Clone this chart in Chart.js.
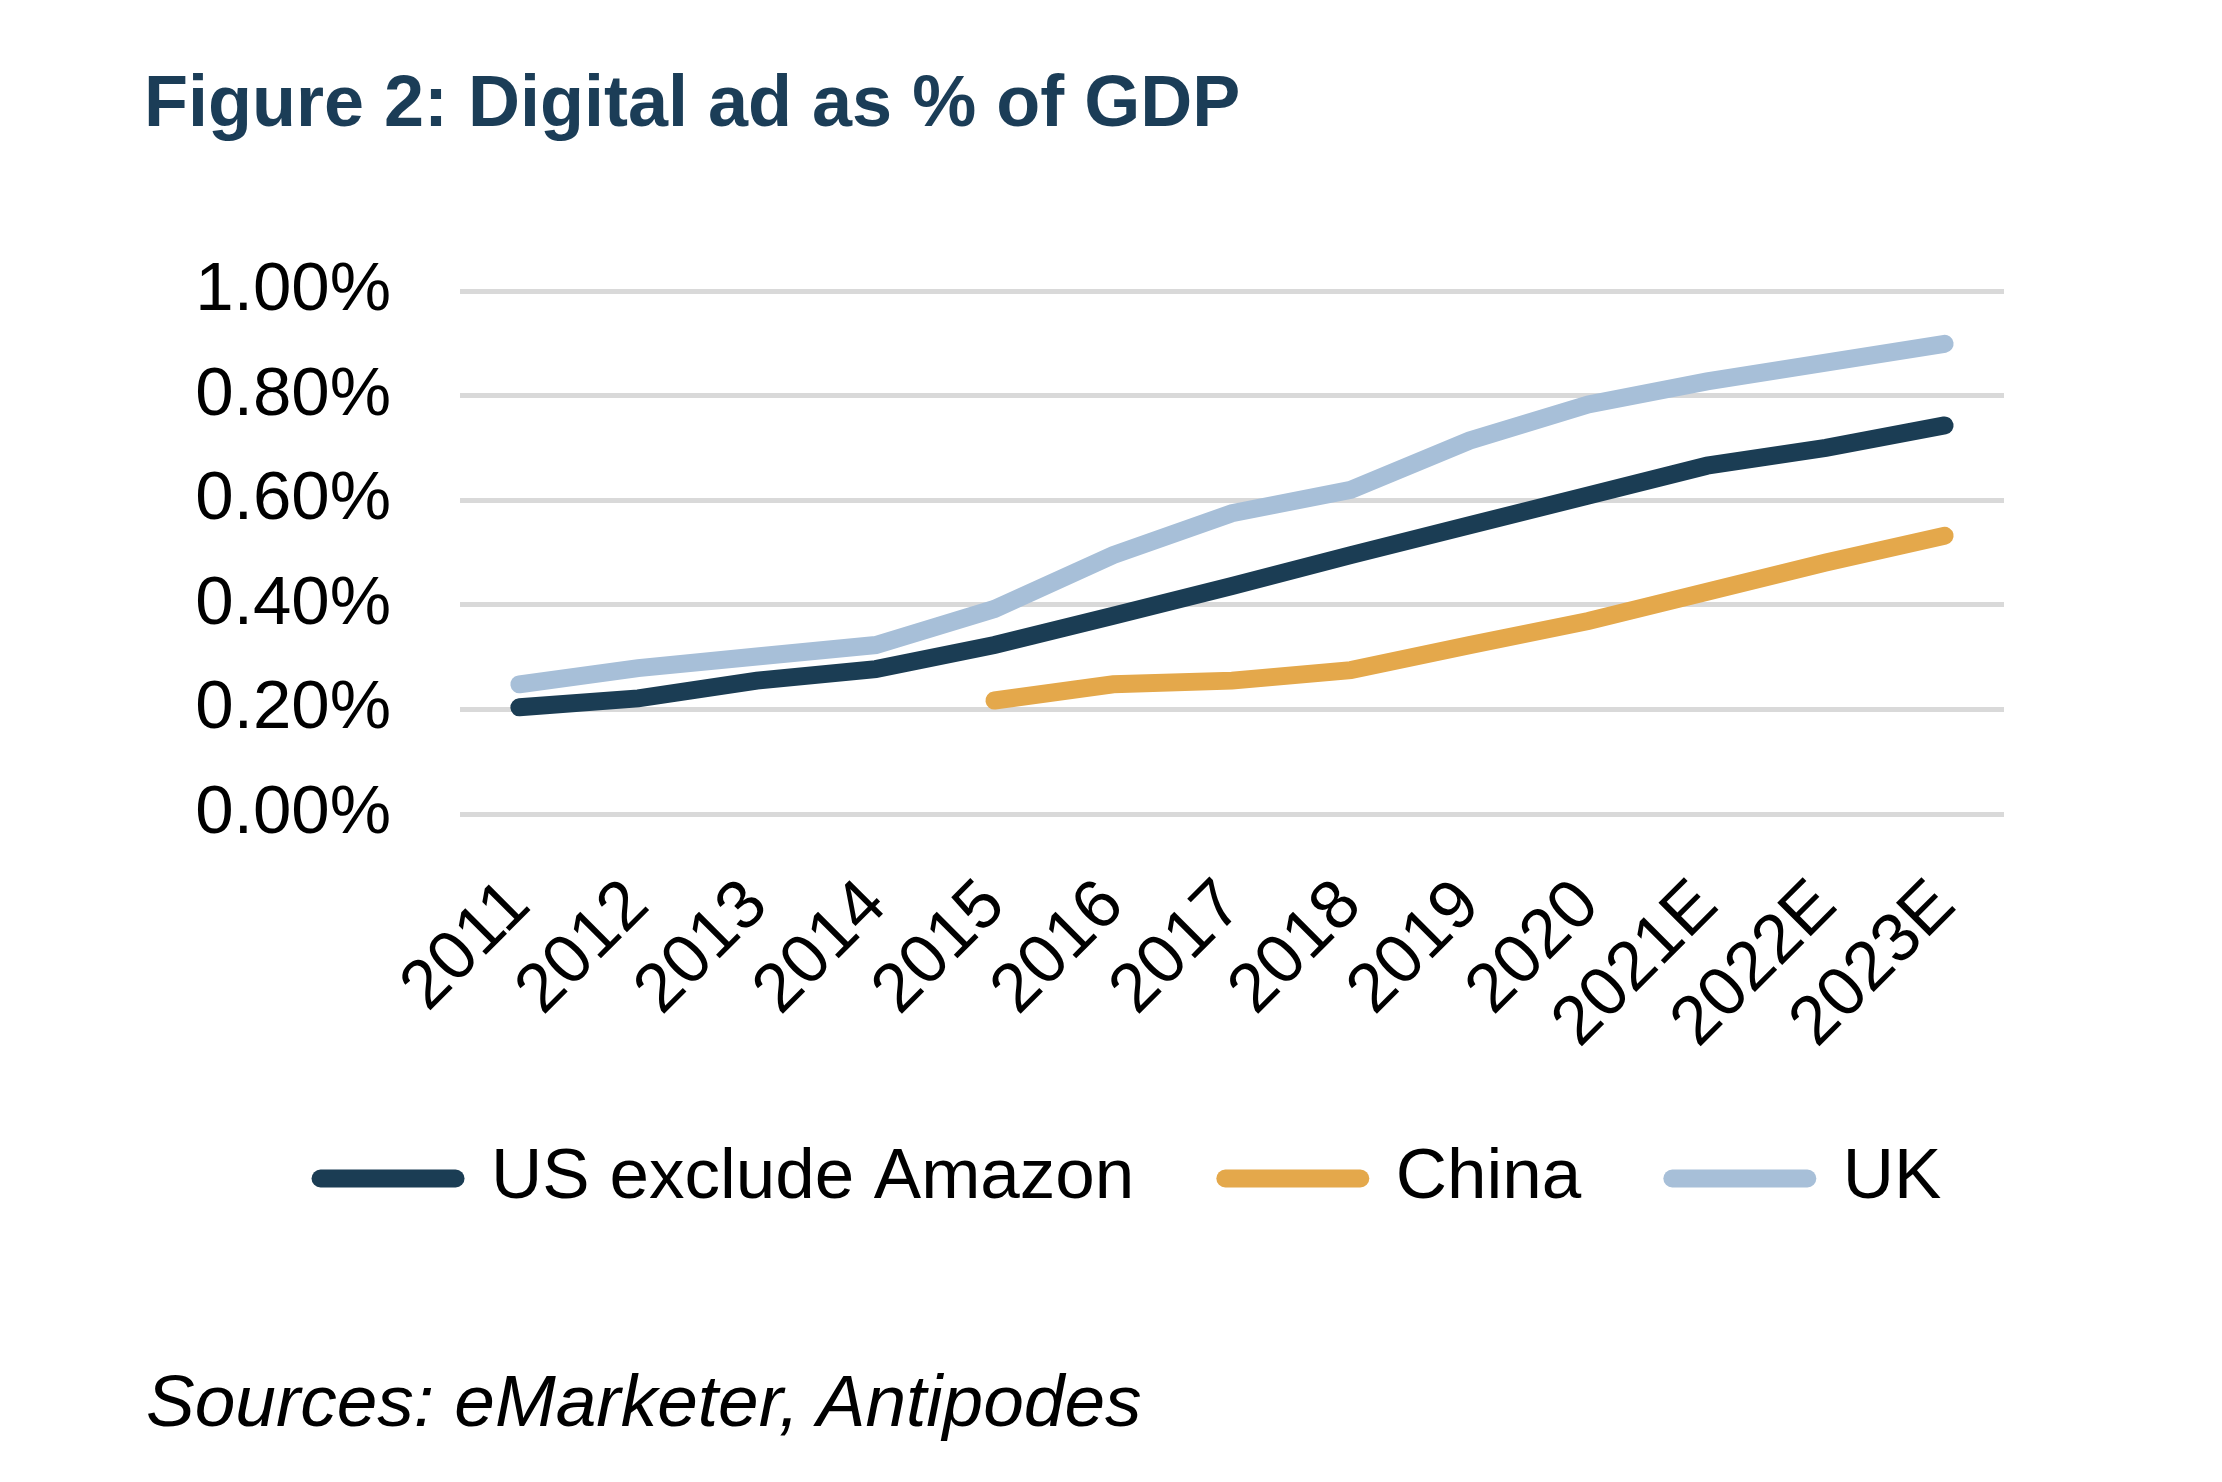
<!DOCTYPE html>
<html>
<head>
<meta charset="utf-8">
<script src="https://cdn.jsdelivr.net/npm/chart.js@4/dist/chart.umd.min.js"></script>
<style>
  body { margin: 0; background: #fff; width: 2222px; height: 1482px; position: relative; overflow: hidden; }
  #title { position: absolute; left: 144px; top: 65px; font: bold 72px "Liberation Sans", Arial, sans-serif; line-height: 1; color: #1B3D57; white-space: nowrap; }
  #source { position: absolute; left: 146px; top: 1364px; font: italic 73px "Liberation Sans", Arial, sans-serif; line-height: 1; color: #000; white-space: nowrap; }
</style>
</head>
<body>
<div id="title">Figure 2: Digital ad as % of GDP</div>
<canvas id="GraficoPib" width="2222" height="1224"></canvas>
<div id="source">Sources: eMarketer, Antipodes</div>
<script>
'use strict'

const years = ['2011', '2012', '2013', '2014', '2015', '2016', '2017', '2018', '2019', '2020', '2021E', '2022E', '2023E'];
const usExAmazon = [0.204, 0.221, 0.255, 0.277, 0.323, 0.379, 0.436, 0.495, 0.552, 0.609, 0.666, 0.700, 0.743];
const china = [null, null, null, null, 0.217, 0.248, 0.255, 0.275, 0.323, 0.369, 0.425, 0.481, 0.532];
const uk = [0.248, 0.279, 0.301, 0.323, 0.392, 0.495, 0.575, 0.620, 0.714, 0.783, 0.827, 0.863, 0.899];
const yTicks = [0, 0.2, 0.4, 0.6, 0.8, 1.0];

const canvasPib = document.querySelector('#GraficoPib');
canvasPib.style.position = 'absolute';
canvasPib.style.left = '0px';
canvasPib.style.top = '0px';

const fuente = { family: '"Liberation Sans", Arial, sans-serif' };

function serie(label, values, color) {
  return {
    label: label,
    data: values,
    borderColor: color,
    backgroundColor: color,
    borderWidth: 18,
    borderCapStyle: 'round',
    pointRadius: 0,
    pointHoverRadius: 0,
    tension: 0,
    fill: false
  };
}

const dataPib = {
  labels: years,
  datasets: [
    serie('US exclude Amazon', usExAmazon, '#1B3D54'),
    serie('China', china, '#E4A84B'),
    serie('UK', uk, '#A7BFD8')
  ]
};

// config
const configPib = {
  type: 'line',
  data: dataPib,
  options: {
    responsive: false,
    animation: false,
    devicePixelRatio: 1,
    layout: { padding: { left: 40, right: 0, top: 291, bottom: 0 } },
    plugins: {
      title: { display: false },
      tooltip: { enabled: false },
      legend: {
        position: 'bottom',
        labels: {
          usePointStyle: true,
          pointStyle: 'line',
          pointStyleWidth: 135,
          padding: 91,
          color: '#000',
          font: { ...fuente, size: 71 },
          // round ends on the legend lines, like the series
          generateLabels: chart => Chart.defaults.plugins.legend.labels.generateLabels(chart)
            .map(item => ({ ...item, lineCap: 'round' }))
        }
      }
    },
    scales: {
      x: {
        offset: true,
        grid: { display: false },
        border: { display: false },
        ticks: {
          color: '#000',
          font: { ...fuente, size: 69 },
          autoSkip: false,
          minRotation: 45,
          maxRotation: 45,
          padding: 43
        },
        afterFit: s => { s.height = 238; }
      },
      y: {
        min: 0,
        max: 1.0,
        afterBuildTicks: s => { s.ticks = yTicks.map(v => ({ value: v })); },
        grid: { color: '#D9D9D9', lineWidth: 5, drawTicks: false },
        border: { display: false },
        ticks: {
          color: '#000',
          font: { ...fuente, size: 69 },
          padding: 69,
          callback: v => v.toFixed(2) + '%'
        },
        afterFit: s => { s.width = 420; }
      },
      y2: {
        position: 'right',
        grid: { display: false },
        border: { display: false },
        ticks: { display: false },
        afterFit: s => { s.width = 218; }
      }
    }
  }
};

const GraficoPib = new Chart(canvasPib, configPib);
</script>
</body>
</html>
